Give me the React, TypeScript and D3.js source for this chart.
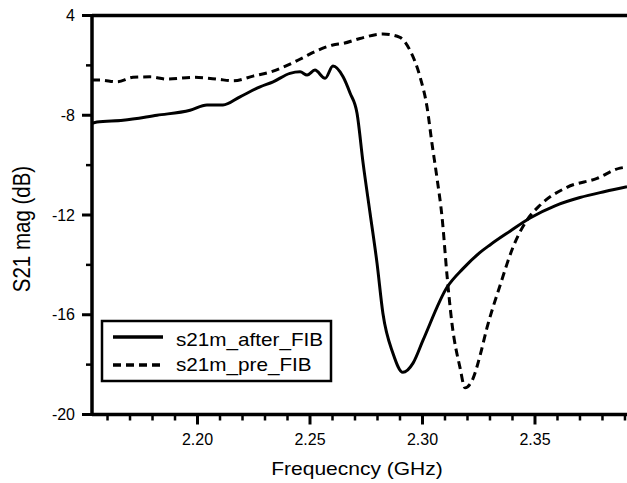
import React from "react";
import * as d3 from "d3";

// Frequency (GHz) and S21 magnitude (dB)
const afterFreq = [2.1531, 2.1553, 2.1669, 2.182, 2.1967, 2.2042, 2.2113, 2.2189, 2.2278, 2.2336, 2.2411, 2.2456, 2.2487, 2.2522, 2.2567, 2.2602, 2.2647, 2.2678, 2.2709, 2.2736, 2.2767, 2.2798, 2.2824, 2.2869, 2.2913, 2.2958, 2.3002, 2.3109, 2.318, 2.3256, 2.33, 2.3389, 2.3478, 2.3589, 2.37, 2.3811, 2.3909];
const afterMag = [-8.32, -8.27, -8.2, -8.0, -7.8, -7.59, -7.59, -7.26, -6.86, -6.66, -6.32, -6.26, -6.39, -6.19, -6.52, -6.03, -6.46, -7.11, -7.92, -9.92, -11.93, -13.94, -15.94, -17.55, -18.31, -17.94, -17.03, -14.9, -14.15, -13.5, -13.2, -12.65, -12.12, -11.63, -11.3, -11.06, -10.87];

const preFreq = [2.1531, 2.1567, 2.1642, 2.1713, 2.1789, 2.1864, 2.198, 2.2087, 2.2158, 2.2247, 2.2336, 2.2411, 2.2469, 2.2531, 2.2602, 2.2647, 2.2722, 2.2824, 2.29, 2.2944, 2.2989, 2.302, 2.3042, 2.3064, 2.3087, 2.3109, 2.3131, 2.3167, 2.3189, 2.3224, 2.3256, 2.3287, 2.3313, 2.3344, 2.3376, 2.3402, 2.3464, 2.3522, 2.3642, 2.3776, 2.3878, 2.3909];
const preMag = [-6.59, -6.59, -6.66, -6.48, -6.46, -6.55, -6.48, -6.55, -6.62, -6.43, -6.23, -5.95, -5.69, -5.41, -5.18, -5.12, -4.92, -4.74, -4.88, -5.39, -6.46, -7.66, -9.12, -10.49, -12.09, -14.42, -16.35, -18.13, -18.93, -18.57, -17.63, -16.51, -15.71, -14.85, -13.95, -13.3, -12.21, -11.61, -10.89, -10.53, -10.12, -10.08];

const xMajorTicks = [2.2, 2.25, 2.3, 2.35];
const xTickLabels = ["2.20", "2.25", "2.30", "2.35"];
const xMinorTicks = [2.16, 2.17, 2.18, 2.19, 2.21, 2.22, 2.23, 2.24, 2.26, 2.27, 2.28, 2.29, 2.31, 2.32, 2.33, 2.34, 2.36, 2.37, 2.38, 2.39];
const yMajorTicks = [-4, -8, -12, -16, -20];
const yTickLabels = ["4", "-8", "-12", "-16", "-20"];
const yMinorTicks = [-6, -10, -14, -18];

const seriesNames = ["s21m_after_FIB", "s21m_pre_FIB"];

const W = 627;
const H = 483;
const L = 92;
const R = 627;
const T = 15.5;
const B = 414.5;
const FONT = "'Liberation Sans', Arial, Helvetica, sans-serif";

export default function App() {
  const x = d3.scaleLinear().domain([2.1531, 2.3909]).range([L, R]);
  const y = d3.scaleLinear().domain([-20, -4]).range([B, T]);
  const line = d3
    .line<[number, number]>()
    .x((d) => x(d[0]))
    .y((d) => y(d[1]))
    .curve(d3.curveMonotoneX);
  const after = afterFreq.map((f, i) => [f, afterMag[i]] as [number, number]);
  const pre = preFreq.map((f, i) => [f, preMag[i]] as [number, number]);

  return (
    <svg
      width={W}
      height={H}
      style={{ position: "absolute", left: 0, top: 0, background: "#fff" }}
      fontFamily={FONT}
    >
      <rect x={0} y={0} width={W} height={H} fill="#fff" />
      <defs>
        <clipPath id="plot">
          <rect x={L} y={T - 2} width={R - L} height={B - T + 4} />
        </clipPath>
      </defs>
      <g clipPath="url(#plot)">
        <path d={line(pre) || ""} fill="none" stroke="#000" strokeWidth={3} strokeDasharray="8,5" />
        <path d={line(after) || ""} fill="none" stroke="#000" strokeWidth={3} />
      </g>
      {/* axes */}
      <line x1={L} x2={R} y1={T} y2={T} stroke="#000" strokeWidth={3.5} />
      <line x1={L} x2={R} y1={B} y2={B} stroke="#000" strokeWidth={3.5} />
      <line x1={L} x2={L} y1={T - 1.5} y2={B + 1.5} stroke="#000" strokeWidth={3.5} />
      {yMajorTicks.map((t, i) => (
        <g key={"ym" + t}>
          <line x1={L - 10} x2={L} y1={y(t)} y2={y(t)} stroke="#000" strokeWidth={3} />
          <text x={75} y={y(t)} dy="0.35em" textAnchor="end" fontSize={16}>
            {yTickLabels[i]}
          </text>
        </g>
      ))}
      {yMinorTicks.map((t) => (
        <line key={"yn" + t} x1={L - 6} x2={L} y1={y(t)} y2={y(t)} stroke="#000" strokeWidth={2.5} />
      ))}
      {xMajorTicks.map((t, i) => (
        <g key={"xm" + t}>
          <line x1={x(t)} x2={x(t)} y1={B} y2={B + 10} stroke="#000" strokeWidth={3} />
          <text x={x(t)} y={445} textAnchor="middle" fontSize={16}>
            {xTickLabels[i]}
          </text>
        </g>
      ))}
      {xMinorTicks.map((t) => (
        <line key={"xn" + t} x1={x(t)} x2={x(t)} y1={B} y2={B + 6} stroke="#000" strokeWidth={2.5} />
      ))}
      <text transform={`translate(357,475) scale(1.2,1)`} textAnchor="middle" fontSize={17.5}>
        Frequecncy (GHz)
      </text>
      <text transform={`translate(30,229) scale(1.2,1) rotate(-90)`} textAnchor="middle" fontSize={20.5}>
        S21 mag (dB)
      </text>
      {/* legend */}
      <rect x={102} y={321} width={229} height={60} fill="#fff" stroke="#000" strokeWidth={2.5} />
      <line x1={113} x2={163} y1={337} y2={337} stroke="#000" strokeWidth={3.5} />
      <line x1={113} x2={163} y1={365} y2={365} stroke="#000" strokeWidth={3.5} strokeDasharray="8,5" />
      <text transform="translate(176,345.5) scale(1.15,1)" fontSize={18}>
        {seriesNames[0]}
      </text>
      <text transform="translate(176,370.5) scale(1.15,1)" fontSize={18}>
        {seriesNames[1]}
      </text>
    </svg>
  );
}
